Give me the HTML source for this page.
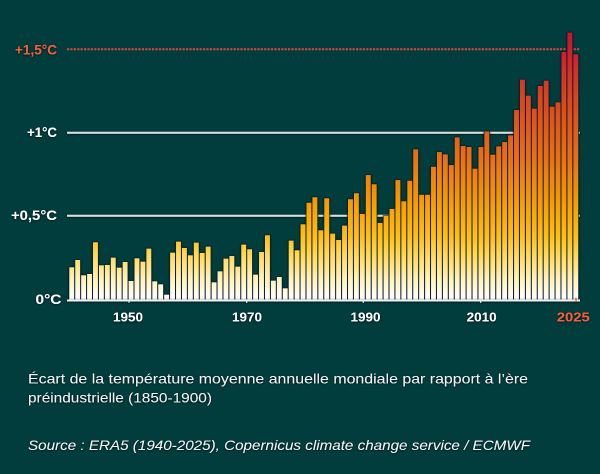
<!DOCTYPE html>
<html><head><meta charset="utf-8"><style>
html,body{margin:0;padding:0;background:#023d3d;}
svg{display:block;}
</style></head><body>
<svg width="600" height="474" viewBox="0 0 600 474" xmlns="http://www.w3.org/2000/svg">
<defs>
<linearGradient id="g" gradientUnits="userSpaceOnUse" x1="0" y1="300" x2="0" y2="30">
<stop offset="0" stop-color="#ffffff"/>
<stop offset="0.074" stop-color="#fff3c0"/>
<stop offset="0.167" stop-color="#ffd955"/>
<stop offset="0.241" stop-color="#ffbe0a"/>
<stop offset="0.37" stop-color="#f59a00"/>
<stop offset="0.52" stop-color="#ea7210"/>
<stop offset="0.70" stop-color="#dc4f1c"/>
<stop offset="0.85" stop-color="#d0302a"/>
<stop offset="1" stop-color="#c51030"/>
</linearGradient>
<filter id="sh" x="-20%" y="-20%" width="140%" height="140%">
<feDropShadow dx="0" dy="0.5" stdDeviation="1" flood-color="#000814" flood-opacity="0.9"/>
</filter>
</defs>
<rect width="600" height="474" fill="#023d3d"/>

<!-- grid lines -->
<g filter="url(#sh)">
<line x1="67" y1="215.7" x2="580" y2="215.7" stroke="#d6e2de" stroke-width="2"/>
<line x1="67" y1="132.7" x2="580" y2="132.7" stroke="#d6e2de" stroke-width="2"/>
</g>
<line x1="67" y1="49.3" x2="580" y2="49.3" stroke="#d64a3e" stroke-width="2" stroke-dasharray="2.2 1.2"/>

<!-- bars -->
<g id="bars" filter="url(#sh)"></g>

<!-- axis -->
<g filter="url(#sh)">
<line x1="67" y1="300.5" x2="580" y2="300.5" stroke="#f4f4f0" stroke-width="2"/>
<line x1="129" y1="300" x2="129" y2="303" stroke="#f4f4f0" stroke-width="1"/>
<line x1="246.7" y1="300" x2="246.7" y2="303" stroke="#f4f4f0" stroke-width="1"/>
<line x1="363.3" y1="300" x2="363.3" y2="303" stroke="#f4f4f0" stroke-width="1"/>
<line x1="480.7" y1="300" x2="480.7" y2="303" stroke="#f4f4f0" stroke-width="1"/>
<line x1="576" y1="298" x2="576" y2="302" stroke="#e0402a" stroke-width="1.2"/>
</g>

<g font-family="Liberation Sans, sans-serif" font-weight="bold" font-size="14" filter="url(#sh)">
<text x="57" y="54.3" text-anchor="end" fill="#f2603a" textLength="42" lengthAdjust="spacingAndGlyphs">+1,5°C</text>
<text x="57" y="137" text-anchor="end" fill="#ffffff" textLength="30" lengthAdjust="spacingAndGlyphs">+1°C</text>
<text x="57" y="220" text-anchor="end" fill="#ffffff" textLength="46" lengthAdjust="spacingAndGlyphs">+0,5°C</text>
<text x="61.5" y="304" text-anchor="end" fill="#ffffff" textLength="26" lengthAdjust="spacingAndGlyphs">0°C</text>
</g>
<g font-family="Liberation Sans, sans-serif" font-weight="bold" font-size="13" text-anchor="middle" filter="url(#sh)">
<text x="128" y="321.5" fill="#ffffff" textLength="30" lengthAdjust="spacingAndGlyphs">1950</text>
<text x="247" y="321.5" fill="#ffffff" textLength="30" lengthAdjust="spacingAndGlyphs">1970</text>
<text x="365.5" y="321.5" fill="#ffffff" textLength="30" lengthAdjust="spacingAndGlyphs">1990</text>
<text x="481.7" y="321.5" fill="#ffffff" textLength="30" lengthAdjust="spacingAndGlyphs">2010</text>
<text x="573.3" y="321.5" fill="#f2603a" textLength="33" lengthAdjust="spacingAndGlyphs">2025</text>
</g>

<g font-family="Liberation Sans, sans-serif" font-size="14" fill="#f4f4f2" filter="url(#sh)">
<text x="28" y="383.5" textLength="500" lengthAdjust="spacingAndGlyphs">Écart de la température moyenne annuelle mondiale par rapport à l’ère</text>
<text x="28" y="402.5" textLength="184" lengthAdjust="spacingAndGlyphs">préindustrielle (1850-1900)</text>
<text x="28" y="450" font-style="italic" textLength="502" lengthAdjust="spacingAndGlyphs">Source : ERA5 (1940-2025), Copernicus climate change service / ECMWF</text>
</g>
</svg>
<script>
(function(){
var v=[.193,.237,.145,.153,.343,.205,.207,.251,.191,.225,.111,.247,.227,.305,.109,.091,.029,.281,.347,.309,.265,.341,.279,.317,.103,.169,.245,.261,.197,.329,.301,.149,.285,.385,.113,.135,.067,.353,.295,.451,.580,.613,.415,.607,.395,.357,.443,.601,.637,.513,.746,.691,.459,.501,.543,.716,.589,.712,.900,.628,.628,.796,.884,.870,.806,.972,.920,.914,.784,.914,1.008,.868,.918,.944,.984,1.136,1.318,1.222,1.144,1.280,1.312,1.156,1.182,1.484,1.600,1.470];
var g=document.getElementById('bars');var ns='http://www.w3.org/2000/svg';var s='';
for(var i=0;i<v.length;i++){
 var x=69.3+i*5.93, y=299.5-v[i]*166.8, h=300-y;
 s+='<rect x="'+(x-0.5).toFixed(2)+'" y="'+(y-0.5).toFixed(2)+'" width="5.9" height="'+(h+0.5).toFixed(2)+'" fill="#0b1c30"/>';
 s+='<rect x="'+x.toFixed(2)+'" y="'+y.toFixed(2)+'" width="4.9" height="'+h.toFixed(2)+'" fill="url(#g)"/>';
}
g.innerHTML=s;
})();
</script>
</body></html>
